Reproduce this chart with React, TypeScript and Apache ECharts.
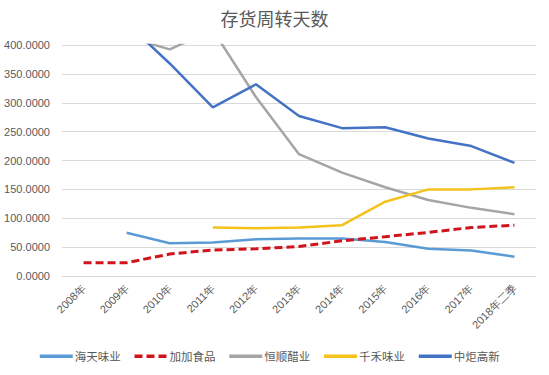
import React, { useEffect, useRef } from "react";
import * as echarts from "echarts";

const categories = ["2008年", "2009年", "2010年", "2011年", "2012年", "2013年", "2014年", "2015年", "2016年", "2017年", "2018年二季"];
const haitian = [null, 75, 56.6, 58, 63.5, 65, 65, 59, 47, 44, 33.5];
const jiajia = [23, 23, 38, 45, 47, 51, 61, 68, 75.5, 84, 88];
const hengshun = [null, 414, 392.5, 426, 310, 211, 179, 153.6, 131.6, 118, 107];
const qianhe = [null, null, null, 84, 82.5, 84, 88, 128.7, 150, 150, 153.6];
const zhongju = [null, 438, 368, 292, 332, 277, 256, 257.5, 238, 225, 196];
const seriesNames = ["海天味业", "加加食品", "恒顺醋业", "千禾味业", "中炬高新"];
const yTicks = [0, 50, 100, 150, 200, 250, 300, 350, 400];

export default function App() {
  const ref = useRef<HTMLDivElement>(null);
  useEffect(() => {
    const chart = echarts.init(ref.current!, null, { renderer: "svg" });
    const colors = ["#5B9BD5", "#D0141C", "#A5A5A5", "#F5C21B", "#4472C4"];
    const data = [haitian, jiajia, hengshun, qianhe, zhongju];
    chart.setOption({
      animation: false,
      backgroundColor: "#ffffff",
      title: {
        text: "存货周转天数",
        left: "center",
        top: 4,
        textStyle: { fontFamily: "Noto Sans CJK SC", fontSize: 18, fontWeight: "normal", color: "#595959" },
      },
      grid: { left: 62, right: 13, top: 45, bottom: 99, containLabel: false },
      legend: {
        bottom: 8,
        left: 33,
        itemWidth: 33,
        itemHeight: 10,
        itemGap: 12,
        itemStyle: { opacity: 0 },
        lineStyle: { width: 3.5 },
        textStyle: { fontFamily: "Noto Sans CJK SC", fontSize: 11.5, color: "#595959", padding: [0, 0, 0, -3] },
        data: seriesNames,
      },
      xAxis: {
        type: "category",
        data: categories,
        boundaryGap: true,
        axisLine: { show: false },
        axisTick: { show: false },
        axisLabel: { rotate: 45, fontSize: 11, color: "#595959", fontFamily: "Liberation Sans", margin: 10, interval: 0 },
      },
      yAxis: {
        type: "value",
        min: 0,
        max: 400,
        interval: 50,
        axisLine: { show: false },
        axisTick: { show: false },
        splitLine: { lineStyle: { color: "#D9D9D9", width: 1 } },
        axisLabel: {
          fontSize: 11,
          color: "#595959",
          fontFamily: "Liberation Sans",
          margin: 12,
          formatter: (v: number) => (yTicks.includes(v) ? v.toFixed(4) : ""),
        },
      },
      series: data.map((d, i) => ({
        name: seriesNames[i],
        type: "line",
        data: d,
        symbol: "none",
        smooth: false,
        connectNulls: false,
        clip: true,
        color: colors[i],
        lineStyle: {
          color: colors[i],
          width: i === 1 ? 3 : 2.5,
          type: i === 1 ? [8, 4] : "solid",
        },
      })),
    });
    return () => chart.dispose();
  }, []);
  return <div ref={ref} style={{ width: 549, height: 375, position: "absolute", left: 0, top: 0 }} />;
}
